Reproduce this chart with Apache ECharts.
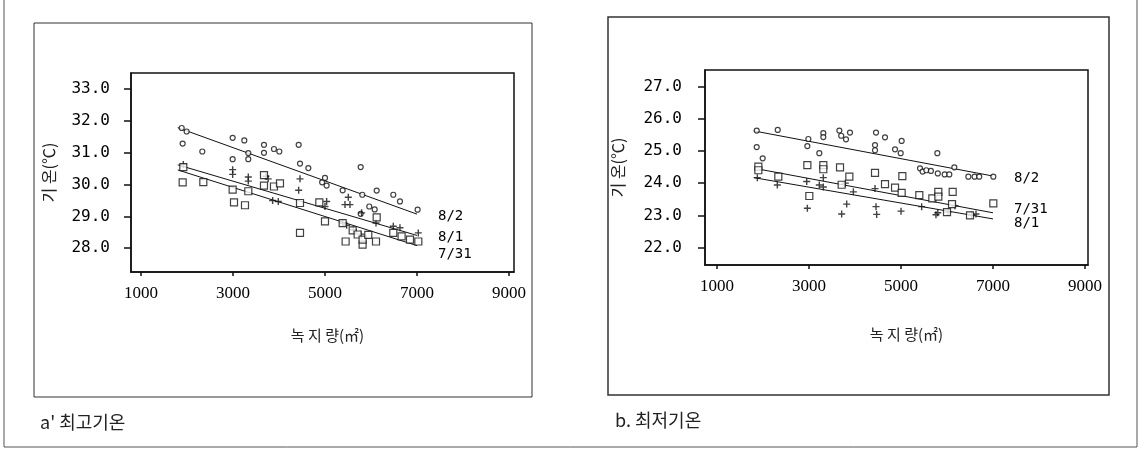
<!DOCTYPE html>
<html>
<head>
<meta charset="utf-8">
<script src="https://cdn.jsdelivr.net/npm/echarts@6/dist/echarts.min.js"></script>
<style>
html,body{margin:0;padding:0;background:#fff;}
#c{width:1141px;height:449px;}
</style>
</head>
<body>
<div id="c"></div>
<script>
// ---- tick labels ----
const xTicks = [1000, 3000, 5000, 7000, 9000];
const yTicksMax = [28, 29, 30, 31, 32, 33];
const yTicksMin = [22, 23, 24, 25, 26, 27];
const seriesNames = ['8/2', '8/1', '7/31'];

// ---- a. 최고기온 (maximum temperature) : [녹지량, 기온] ----
const max0802 = [[1885,31.78],[1993,31.67],[1906,31.29],[2333,31.04],[2993,31.47],[3246,31.39],[2993,30.80],[3333,30.99],[3333,30.80],[3674,31.25],[3674,31.00],[3891,31.12],[4007,31.04],[4428,31.25],[4457,30.66],[4638,30.52],[4938,30.07],[5000,30.21],[5036,29.97],[5384,29.82],[5776,30.55],[5811,29.68],[5776,29.08],[5963,29.31],[6080,29.22],[6124,29.81],[6485,29.68],[6630,29.47],[7014,29.21]];
const max0801 = [[1920,30.63],[2993,30.47],[2993,30.32],[3333,30.24],[3333,30.11],[3717,30.26],[3765,30.18],[3862,29.50],[3985,29.47],[4457,30.18],[4428,29.82],[5036,29.47],[5000,29.31],[5507,29.60],[5435,29.37],[5543,29.37],[5797,29.11],[6109,28.79],[5471,28.72],[5384,28.79],[5616,28.58],[5776,28.44],[6485,28.69],[6630,28.64],[7029,28.48]];
const max0731 = [[1920,30.55],[1906,30.07],[2355,30.08],[2993,29.84],[3022,29.44],[3261,29.35],[3333,29.79],[3674,30.30],[3674,29.97],[3891,29.94],[4022,30.04],[4457,29.42],[4457,28.48],[4877,29.44],[5000,28.84],[5384,28.79],[5449,28.21],[5602,28.56],[5710,28.43],[5818,28.11],[5818,28.27],[5941,28.42],[6109,28.21],[6124,28.97],[6485,28.48],[6666,28.37],[6848,28.27],[7029,28.21]];
const maxLine0802 = [[1800,31.79],[7000,29.07]];
const maxLine0801 = [[1800,30.62],[7000,28.40]];
const maxLine0731 = [[1800,30.46],[7000,28.08]];

// ---- b. 최저기온 (minimum temperature) ----
const min0802 = [[1863,25.63],[2320,25.65],[2986,25.37],[1863,25.12],[1993,24.77],[2964,25.15],[3224,24.93],[3311,25.55],[3311,25.43],[3660,25.63],[3700,25.47],[3891,25.57],[3804,25.36],[4457,25.57],[4652,25.42],[4435,25.18],[4435,25.02],[4870,25.05],[4993,24.93],[5014,25.31],[5790,24.93],[5413,24.46],[5470,24.36],[5550,24.40],[5650,24.38],[5800,24.30],[5950,24.27],[6050,24.27],[6159,24.49],[6464,24.20],[6600,24.20],[6700,24.20],[7007,24.20]];
const min0801 = [[1877,24.17],[2311,23.94],[2964,23.22],[2950,24.05],[3224,23.94],[3311,24.17],[3311,23.88],[3710,23.04],[3819,23.35],[3790,24.00],[3964,23.73],[4435,23.83],[4457,23.27],[4471,23.03],[5000,23.13],[5449,23.27],[5800,23.08],[5760,23.02],[6020,23.10],[6174,23.30],[6536,23.01],[6630,23.04]];
const min0731 = [[1899,24.51],[1899,24.40],[2333,24.20],[2964,24.56],[3007,23.60],[3311,24.56],[3311,24.43],[3674,24.49],[3877,24.20],[3710,23.95],[4435,24.32],[4652,23.97],[4870,23.86],[5029,24.22],[5014,23.70],[5398,23.63],[5681,23.53],[5811,23.73],[5811,23.58],[6123,23.73],[6109,23.35],[6000,23.10],[7007,23.37],[6500,23.00]];
const minLine0802 = [[1800,25.62],[7000,24.22]];
const minLine0731 = [[1850,24.45],[7000,23.08]];
const minLine0801 = [[1800,24.17],[7000,22.89]];

const INK = '#111';
const MONO = 'DejaVu Sans Mono';
const KR = 'Noto Sans CJK KR';

function xAxisCfg(gi, min, max, nameGap, pad) {
  return {
    type: 'value', gridIndex: gi, min: min, max: max,
    name: '녹 지 량(㎡)', nameLocation: 'middle', nameGap: nameGap,
    nameTextStyle: {fontFamily: KR, fontSize: 15, color: '#222', padding: [0, 0, 0, pad]},
    axisLine: {show: true, lineStyle: {color: INK, width: 1.5}},
    axisTick: {show: true, customValues: xTicks, length: 4, lineStyle: {color: INK, width: 1.5}},
    axisLabel: {customValues: xTicks, margin: 13, fontFamily: 'Liberation Serif', fontSize: 17, color: '#000',
      formatter: function (v) { return String(Math.round(v)); }},
    splitLine: {show: false}
  };
}
function yAxisCfg(gi, min, max, ticks, nameGap, margin) {
  return {
    type: 'value', gridIndex: gi, min: min, max: max,
    name: '기 온(℃)', nameLocation: 'middle', nameGap: nameGap, nameRotate: 90,
    nameTextStyle: {fontFamily: KR, fontSize: 16, color: '#222'},
    axisLine: {show: true, lineStyle: {color: INK, width: 1.5}},
    axisTick: {show: true, customValues: ticks, length: 7, lineStyle: {color: INK, width: 1.5}},
    axisLabel: {customValues: ticks, margin: margin, fontFamily: MONO, fontSize: 16, color: '#000',
      formatter: function (v) { return Number(v).toFixed(1); }},
    splitLine: {show: false}
  };
}
const circleSym = {symbol: 'circle', symbolSize: 5, itemStyle: {color: '#fff', borderColor: INK, borderWidth: 1.2}};
const squareSym = {symbol: 'rect', symbolSize: 7, itemStyle: {color: '#fff', borderColor: INK, borderWidth: 1.2}};
const plusSym = {symbol: 'path://M5,0L5,10M0,5L10,5', symbolSize: 7, itemStyle: {color: 'transparent', borderColor: INK, borderWidth: 1.4}};

function scatter(name, data, gi, sym) {
  return Object.assign({type: 'scatter', name: name, data: data, xAxisIndex: gi, yAxisIndex: gi, z: 3}, sym);
}
function regLine(name, data, gi, dy) {
  return {
    type: 'line', name: name, data: data, xAxisIndex: gi, yAxisIndex: gi,
    showSymbol: false, symbol: 'none', lineStyle: {color: INK, width: 1}, z: 2,
    endLabel: {show: true, formatter: name, distance: 21, offset: [0, dy],
      fontFamily: MONO, fontSize: 14, color: '#000'}
  };
}

const chart = echarts.init(document.getElementById('c'), null, {renderer: 'canvas'});
chart.setOption({
  animation: false,
  backgroundColor: '#fff',
  title: [
    {text: "a' 최고기온", left: 35, top: 408, textStyle: {fontFamily: KR, fontSize: 18, fontWeight: 'normal', color: '#222'}},
    {text: 'b. 최저기온', left: 610, top: 406, textStyle: {fontFamily: KR, fontSize: 18, fontWeight: 'normal', color: '#222'}}
  ],
  graphic: [
    {type: 'polyline', shape: {points: [[4, 0], [4, 447], [1137, 447], [1137, 0]]}, style: {stroke: '#555', fill: null, lineWidth: 1}},
    {type: 'rect', shape: {x: 34, y: 23, width: 498, height: 374}, style: {stroke: '#333', fill: null, lineWidth: 1}},
    {type: 'rect', shape: {x: 608, y: 17, width: 501, height: 378}, style: {stroke: '#333', fill: null, lineWidth: 1.5}}
  ],
  grid: [
    {left: 131, top: 73, width: 383, height: 199, show: true, borderColor: INK, borderWidth: 1.5, backgroundColor: 'transparent'},
    {left: 705, top: 70, width: 383, height: 195, show: true, borderColor: INK, borderWidth: 1.5, backgroundColor: 'transparent'}
  ],
  xAxis: [xAxisCfg(0, 783, 9109, 56, 10), xAxisCfg(1, 739, 9065, 62, 20)],
  yAxis: [yAxisCfg(0, 27.25, 33.51, yTicksMax, 74, 21), yAxisCfg(1, 21.46, 27.51, yTicksMin, 79, 23)],
  series: [
    scatter(seriesNames[0], max0802, 0, circleSym),
    scatter(seriesNames[1], max0801, 0, plusSym),
    scatter(seriesNames[2], max0731, 0, squareSym),
    regLine(seriesNames[0], maxLine0802, 0, 2),
    regLine(seriesNames[1], maxLine0801, 0, 2),
    regLine(seriesNames[2], maxLine0731, 0, 9),
    scatter(seriesNames[0], min0802, 1, circleSym),
    scatter(seriesNames[1], min0801, 1, plusSym),
    scatter(seriesNames[2], min0731, 1, squareSym),
    regLine(seriesNames[0], minLine0802, 1, 2),
    regLine(seriesNames[2], minLine0731, 1, -3),
    regLine(seriesNames[1], minLine0801, 1, 4)
  ]
});
</script>
</body>
</html>
